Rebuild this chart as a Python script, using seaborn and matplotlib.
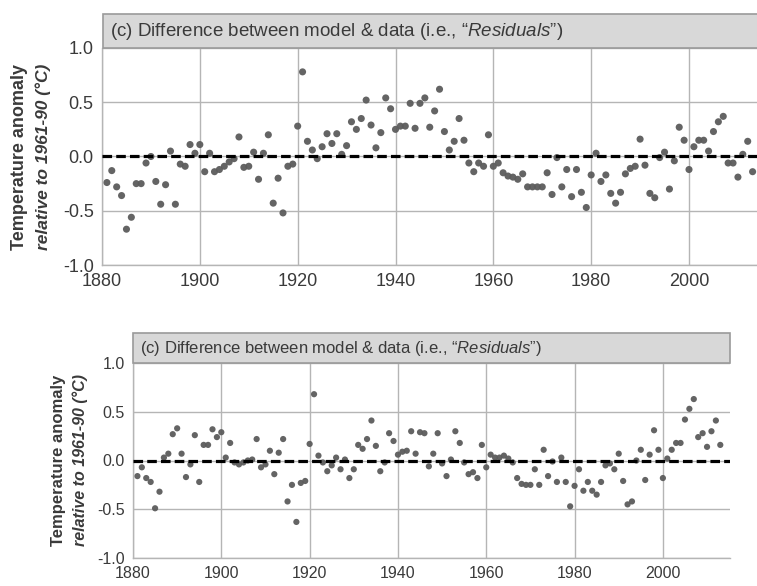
import matplotlib
matplotlib.use("Agg")
import matplotlib.pyplot as plt
from matplotlib.patches import Rectangle
import numpy as np
import pandas as pd
import seaborn as sns

# ---------------- data ----------------
years = list(range(1881, 2014))

resid_top = [
    -0.24, -0.13, -0.28, -0.36, -0.67, -0.56, -0.25, -0.25, -0.06, 0.00,   # 1881-1890
    -0.23, -0.44, -0.26, 0.05, -0.44, -0.07, -0.09, 0.11, 0.03, 0.11,      # 1891-1900
    -0.14, 0.03, -0.14, -0.12, -0.09, -0.05, -0.02, 0.18, -0.10, -0.09,    # 1901-1910
    0.04, -0.21, 0.03, 0.20, -0.43, -0.20, -0.52, -0.09, -0.07, 0.28,      # 1911-1920
    0.78, 0.14, 0.06, -0.02, 0.09, 0.21, 0.12, 0.21, 0.02, 0.10,           # 1921-1930
    0.32, 0.25, 0.35, 0.52, 0.29, 0.08, 0.22, 0.54, 0.44, 0.25,            # 1931-1940
    0.28, 0.28, 0.49, 0.26, 0.49, 0.54, 0.27, 0.42, 0.62, 0.23,            # 1941-1950
    0.06, 0.14, 0.35, 0.15, -0.06, -0.14, -0.06, -0.09, 0.20, -0.09,       # 1951-1960
    -0.06, -0.15, -0.18, -0.19, -0.21, -0.16, -0.28, -0.28, -0.28, -0.28,  # 1961-1970
    -0.15, -0.35, -0.01, -0.28, -0.12, -0.37, -0.12, -0.33, -0.47, -0.17,  # 1971-1980
    0.03, -0.23, -0.17, -0.34, -0.43, -0.33, -0.16, -0.11, -0.09, 0.16,    # 1981-1990
    -0.08, -0.34, -0.38, -0.01, 0.04, -0.30, -0.04, 0.27, 0.15, -0.12,     # 1991-2000
    0.09, 0.15, 0.15, 0.05, 0.23, 0.32, 0.37, -0.06, -0.06, -0.19,         # 2001-2010
    0.02, 0.14, -0.14,                                                     # 2011-2013
]

resid_bottom = [
    -0.16, -0.07, -0.18, -0.22, -0.49, -0.32, 0.03, 0.07, 0.27, 0.33,      # 1881-1890
    0.07, -0.17, -0.04, 0.26, -0.22, 0.16, 0.16, 0.32, 0.24, 0.29,         # 1891-1900
    0.03, 0.18, -0.02, -0.04, -0.02, 0.00, 0.01, 0.22, -0.07, -0.04,       # 1901-1910
    0.10, -0.14, 0.08, 0.22, -0.42, -0.25, -0.63, -0.23, -0.21, 0.17,      # 1911-1920
    0.68, 0.05, -0.02, -0.11, -0.05, 0.03, -0.09, 0.01, -0.18, -0.09,      # 1921-1930
    0.16, 0.12, 0.22, 0.41, 0.15, -0.11, -0.02, 0.28, 0.20, 0.06,          # 1931-1940
    0.09, 0.10, 0.30, 0.07, 0.29, 0.28, -0.06, 0.07, 0.28, -0.03,          # 1941-1950
    -0.16, 0.01, 0.30, 0.18, -0.02, -0.14, -0.12, -0.18, 0.16, -0.07,      # 1951-1960
    0.06, 0.03, 0.03, 0.05, 0.02, -0.02, -0.18, -0.24, -0.25, -0.25,       # 1961-1970
    -0.09, -0.25, 0.11, -0.16, -0.01, -0.22, 0.03, -0.22, -0.47, -0.26,    # 1971-1980
    -0.09, -0.31, -0.22, -0.31, -0.35, -0.22, -0.05, -0.03, -0.09, 0.07,   # 1981-1990
    -0.21, -0.45, -0.42, 0.00, 0.11, -0.20, 0.06, 0.31, 0.11, -0.18,       # 1991-2000
    0.02, 0.11, 0.18, 0.18, 0.42, 0.53, 0.63, 0.24, 0.28, 0.14,            # 2001-2010
    0.30, 0.41, 0.16,                                                      # 2011-2013
]

x_ticks = [1880, 1900, 1920, 1940, 1960, 1980, 2000]
y_ticks = [-1.0, -0.5, 0.0, 0.5, 1.0]
y_ticklabels = ["-1.0", "-0.5", "0.0", "0.5", "1.0"]
title_main = "(c) Difference between model & data (i.e., \u201c"
title_ital = "Residuals"
title_end = "\u201d)"
ylabel_1 = "Temperature anomaly"
ylabel_2 = "relative to 1961-90 (\u00b0C)"

df_top = pd.DataFrame({"year": years, "resid": resid_top})
df_bot = pd.DataFrame({"year": years, "resid": resid_bottom})

# ---------------- style ----------------
sns.set_theme(style="whitegrid")
plt.rcParams["font.family"] = ["Liberation Sans", "DejaVu Sans"]
plt.rcParams["axes.unicode_minus"] = False
plt.rcParams["mathtext.fontset"] = "custom"
plt.rcParams["mathtext.it"] = "Liberation Sans:italic"
plt.rcParams["mathtext.rm"] = "Liberation Sans"

W, H = 757, 586
fig = plt.figure(figsize=(W / 100, H / 100), dpi=100)
fig.patch.set_facecolor("white")

TXT = "#3a3a3a"
GRID = "#b5b5b5"
DOT = "#5c5c5c"


def fx(px):
    return px / W


def fy(py):
    return 1 - py / H


def panel(df, rect, xmax, msize, tsize, box, title_fs, ylab_x, ylab_fs):
    left, top, right, bottom = rect
    ax = fig.add_axes([fx(left), fy(bottom), fx(right - left), (bottom - top) / H])
    ax.set_facecolor("white")
    sns.scatterplot(data=df, x="year", y="resid", ax=ax, color=DOT, s=msize,
                    edgecolor="none", alpha=0.95, zorder=2, legend=False)
    ax.axhline(0, color="black", lw=2.3, dashes=(3.0, 1.3), zorder=3)
    ax.set_xlim(1880, xmax)
    ax.set_ylim(-1.0, 1.0)
    ax.set_xticks(x_ticks)
    ax.set_xticklabels([str(t) for t in x_ticks])
    ax.set_yticks(y_ticks)
    ax.set_yticklabels(y_ticklabels)
    ax.tick_params(axis="both", length=0, labelsize=tsize, colors=TXT, pad=6)
    ax.grid(True, color=GRID, lw=1.0)
    ax.set_axisbelow(True)
    ax.set_xlabel("")
    ax.set_ylabel("")
    for s in ["top", "right"]:
        ax.spines[s].set_visible(False)
    for s in ["left", "bottom"]:
        ax.spines[s].set_color(GRID)
        ax.spines[s].set_linewidth(1.0)

    # title box
    bx0, by0, bx1, by1 = box
    fig.patches.append(Rectangle((fx(bx0), fy(by1)), fx(bx1 - bx0), (by1 - by0) / H,
                                 transform=fig.transFigure, facecolor="#d8d8d8",
                                 edgecolor="#9a9a9a", lw=1.2, zorder=5))
    fig.text(fx(bx0 + 7), fy((by0 + by1) / 2),
             title_main + "$\\it{" + title_ital + "}$" + title_end,
             fontsize=title_fs, color=TXT, va="center", ha="left", zorder=6)

    yc = fy((top + bottom) / 2)
    fig.text(fx(ylab_x[0]), yc, ylabel_1, rotation=90, fontsize=ylab_fs,
             fontweight="bold", color=TXT, ha="center", va="center")
    fig.text(fx(ylab_x[1]), yc, ylabel_2, rotation=90, fontsize=ylab_fs - 0.5,
             fontweight="bold", fontstyle="italic", color=TXT, ha="center", va="center")
    return ax


panel(df_top, (102, 48, 757, 265), 2013.9, 26, 13, (103, 14, 770, 48), 13.5,
      (20, 43), 13)
panel(df_bot, (133, 363, 730, 558), 2015.2, 20, 11.5, (133, 333, 730, 363), 12,
      (58, 80), 12)

fig.savefig("out.png", dpi=100, facecolor="white")
